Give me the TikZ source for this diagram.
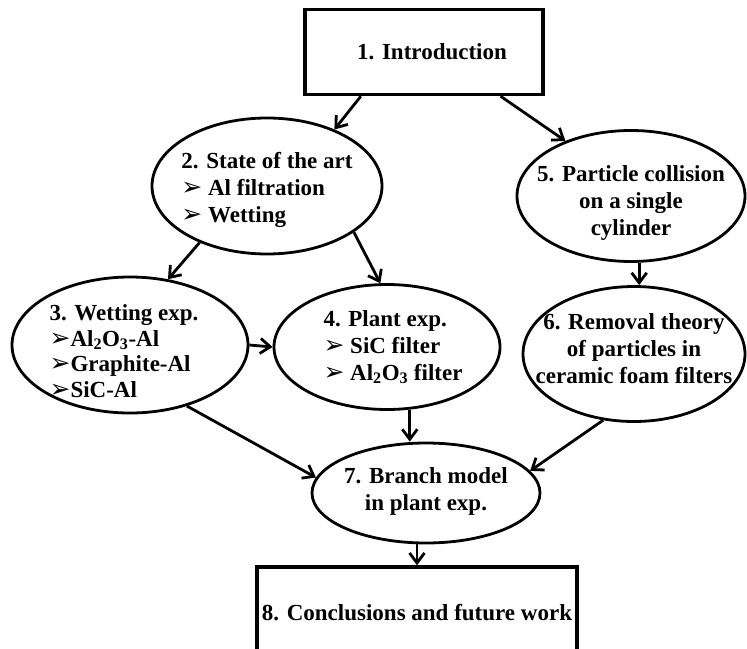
\documentclass[tikz,border=0pt]{standalone}
\usepackage{fontspec}
\setmainfont{Liberation Serif}
\newfontfamily\dejavu{DejaVu Sans}
\usetikzlibrary{arrows.meta,shapes.geometric}
\newcommand{\pointer}{{\dejavu\fontsize{25}{25}\selectfont ➢}}

\begin{document}
\begin{tikzpicture}[x=1pt,y=-1pt,font=\fontsize{23}{27}\selectfont\bfseries,>={Straight Barb[length=10pt,width=15pt]},line width=2.8pt,box/.style={draw,rectangle,line width=3.4pt},oval/.style={draw,ellipse,inner sep=0pt},txt/.style={inner sep=0pt,align=center}]
\useasboundingbox (0,0) rectangle (747,648);
\node[box,minimum width=238pt,minimum height=85pt] (b1) at (424,52) {\hspace{16pt}1. Introduction};
\node[oval,minimum width=230pt,minimum height=136pt] (e2) at (267,186) {};
\node[txt,align=left] (t2) at ([yshift=-4pt]e2.center) {2. State of the art\\\pointer{} Al filtration\\\pointer{} Wetting};
\node[oval,minimum width=228pt,minimum height=131pt] (e5) at (631,196) {};
\node[txt] (t5) at ([yshift=-7pt]e5.center) {5. Particle collision\\on a single\\cylinder};
\node[oval,minimum width=236pt,minimum height=136pt] (e3) at (130,345) {};
\node[txt,align=left,font=\fontsize{23}{25.5}\selectfont\bfseries] (t3) at ([xshift=-6pt,yshift=-6pt]e3.center) {3. Wetting exp.\\\pointer Al\textsubscript{2}O\textsubscript{3}-Al\\\pointer Graphite-Al\\\pointer SiC-Al};
\node[oval,minimum width=226pt,minimum height=125pt] (e4) at (387,347) {};
\node[txt,align=left] (t4) at ([xshift=6pt]e4.center) {4. Plant exp.\\\pointer{} SiC filter\\\pointer{} Al\textsubscript{2}O\textsubscript{3} filter};
\node[oval,minimum width=222pt,minimum height=135pt] (e6) at (634,354) {};
\node[txt] (t6) at ([yshift=5pt]e6.center) {6. Removal theory\\of particles in\\ceramic foam filters};
\node[oval,minimum width=228pt,minimum height=100pt] (e7) at (426,493) {};
\node[txt] (t7) at ([yshift=2pt]e7.center) {7. Branch model\\in plant exp.};
\node[box,minimum width=320pt,minimum height=92pt] (b8) at (417,613) {8. Conclusions and future work};
% connectors
\draw[->] (b1.215) -- (e2.40);
\draw[->] (b1.-30) -- (e5.140);
\draw[->] (e2.220) -- (e3.60);
\draw[->] (e2.-28) -- (e4.96);
\draw[->] (e3.east) -- (e4.west);
\draw[->] (e5.-83) -- (e5.-83 |- e6.north);
\draw[->] (e4.-70) -- (e4.-70 |- e7.north);
\draw[->] (e3.-47) -- (e7.172);
\draw[->] (e6.245) -- (e7.12);
\draw[->] (e7.south -| b8.north) -- (b8.north);
\end{tikzpicture}
\end{document}
